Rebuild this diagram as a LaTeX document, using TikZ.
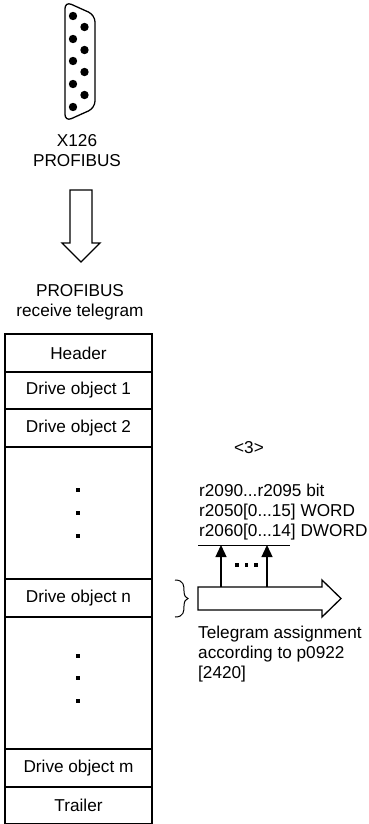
\documentclass[tikz,border=0pt]{standalone}
\usepackage{fontspec}
\setmainfont{Liberation Sans}
\usetikzlibrary{arrows.meta, positioning}

\begin{document}
\begin{tikzpicture}[
    x=1pt, y=-1pt,
    every node/.style={font=\fontsize{17.2}{20}\selectfont},
    row/.style={
        rectangle,
        draw=black,
        line width=1.3pt,
        minimum width=147pt,
        inner sep=0pt,
        align=center
    },
    sidetext/.style={
        inner sep=0pt,
        align=left,
        anchor=west
    },
    caption/.style={
        inner sep=0pt,
        align=center
    },
    contact/.style={circle, fill=black, inner sep=0pt, minimum size=8.4pt},
    dot/.style={rectangle, fill=black, inner sep=0pt, minimum size=4.5pt},
    block/.style={draw=black, line width=1.3pt, fill=white},
    arrow/.style={line width=1.3pt, -{Triangle[length=12pt, width=11pt]}}
]
\useasboundingbox (0,0) rectangle (369,824);

% Connector
\draw[line width=1.3pt, rounded corners=7pt]
    (65,1.5) -- (95,15) -- (95,108) -- (65,121.5) -- cycle;
\foreach \py [count=\i] in {16,39,61,84,107} {
    \node[contact] (pl\i) at (73,\py) {};
}
\foreach \py [count=\i] in {27,50,72,95} {
    \node[contact] (pr\i) at (84.5,\py) {};
}

% Titles
\node[caption] (x126) at (77,150.5) {X126\\PROFIBUS};
\node[caption] (telegram) at (80,302) {PROFIBUS\\receive telegram};

% Down arrow
\draw[block] (70,190) -- (92,190) -- (92,243) -- (100,243) -- (81,262)
    -- (62,243) -- (70,243) -- cycle;

% Telegram rows
\node[row, minimum height=38pt] (header) at (78.5,353) {Header};
\node[row, minimum height=37pt] (obj1) at (78.5,390.5) {Drive object 1};
\node[row, minimum height=38pt] (obj2) at (78.5,428) {Drive object 2};
\node[row, minimum height=132pt] (gap1) at (78.5,513) {};
\node[row, minimum height=38pt] (objn) at (78.5,598) {Drive object n};
\node[row, minimum height=132pt] (gap2) at (78.5,683) {};
\node[row, minimum height=38pt] (objm) at (78.5,768) {Drive object m};
\node[row, minimum height=37pt] (trailer) at (78.5,805.5) {Trailer};

% Dots
\foreach \py [count=\i] in {490,513,536} {
    \node[dot] (da\i) at (78,\py) {};
}
\foreach \py [count=\i] in {656,678,701} {
    \node[dot] (db\i) at (78,\py) {};
}

% Right side
\node[caption] (ref) at (249,448) {<3>};
\node[sidetext] (params) at (199,512) {r2090...r2095 bit\\r2050[0...15] WORD\\r2060[0...14] DWORD};
\node[sidetext] (assign) at (198,654) {Telegram assignment\\according to p0922\\{[2420]}};

% Brace
\draw[line width=1pt] (175,580) .. controls (184,580) and (184,586) .. (184,591)
    .. controls (184,596) and (186,598) .. (188,598.5)
    .. controls (186,599) and (184,601) .. (184,606)
    .. controls (184,611) and (184,617) .. (175,617);

% Block arrow
\draw[block] (198,587) -- (322,587) -- (322,580) -- (341,598.5) -- (322,617)
    -- (322,610) -- (198,610) -- cycle;

\coordinate (barl) at (198,545);
\coordinate (barr) at (290,545);
\coordinate (a1) at (221,587);
\coordinate (a2) at (267,587);
\draw[line width=1pt] (barl) -- (barr);
\draw[arrow] (a1) -- (a1 |- barl);
\draw[arrow] (a2) -- (a2 |- barl);
\foreach \px [count=\i] in {237,246.5,256} {
    \node[dot, minimum size=3.5pt] (dc\i) at (\px,565) {};
}

\end{tikzpicture}
\end{document}
